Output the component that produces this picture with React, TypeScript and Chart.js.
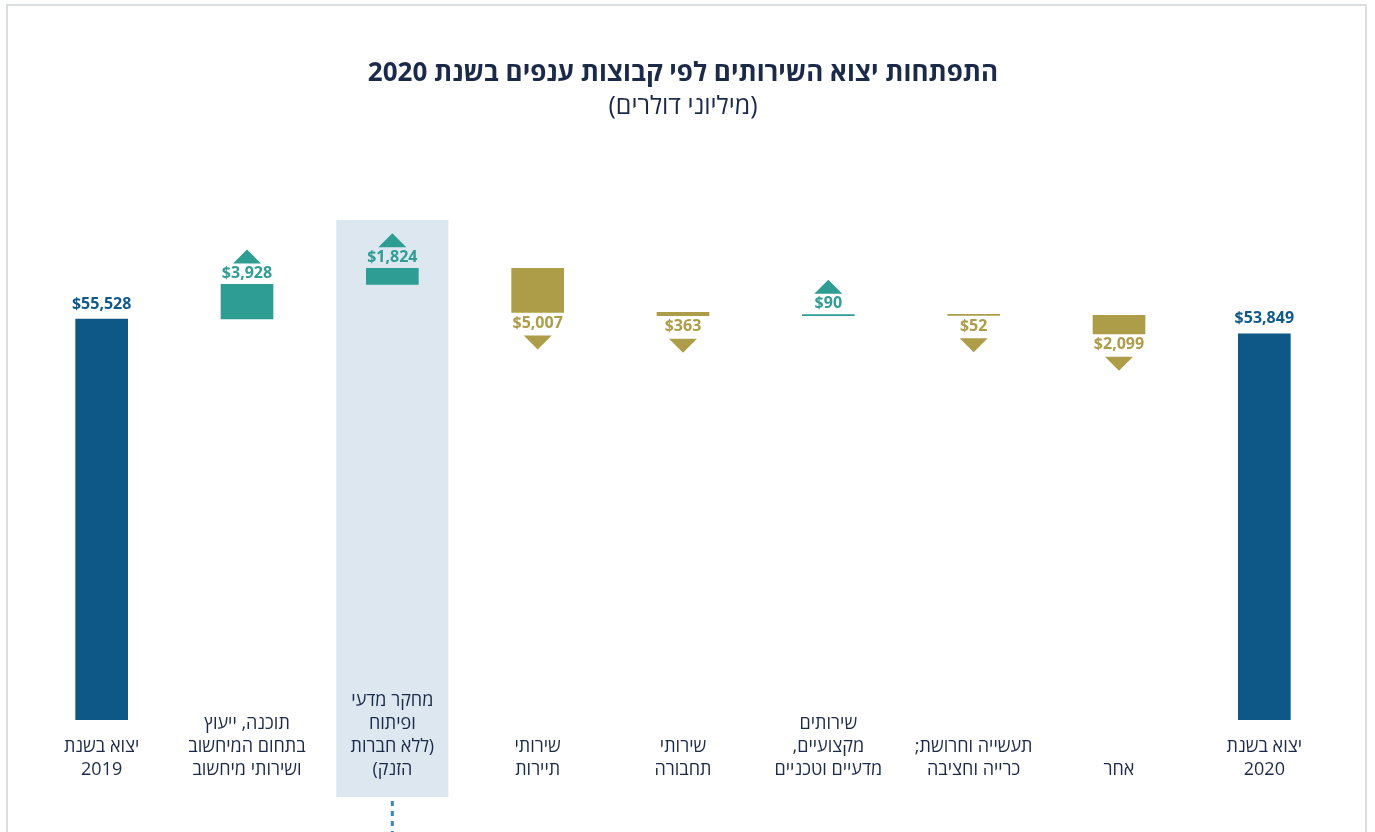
import React, { useEffect, useRef } from 'react';
import { Chart, registerables } from 'chart.js';

Chart.register(...registerables);

// ---- data ----
const categories: string[][] = [
  ['יצוא בשנת', '2019'],
  ['תוכנה, ייעוץ', 'בתחום המיחשוב', 'ושירותי מיחשוב'],
  ['מחקר מדעי', 'ופיתוח', '(ללא חברות', 'הזנק)'],
  ['שירותי', 'תיירות'],
  ['שירותי', 'תחבורה'],
  ['שירותים', 'מקצועיים,', 'מדעיים וטכניים'],
  ['תעשייה וחרושת;', 'כרייה וחציבה'],
  ['אחר'],
  ['יצוא בשנת', '2020'],
];
const startTotal = 55528;
const deltas = [3928, 1824, -5007, -363, 90, -52, -2099];
const endTotal = 53849;
const titleText = 'התפתחות יצוא השירותים לפי קבוצות ענפים בשנת 2020';
const subtitleText = '(מיליוני דולרים)';
const highlightIndex = 2;
const yMin = 10000;
const yMax = 66770;

const FONT = '"Open Sans", "DejaVu Sans", sans-serif';
const TEXT_DARK = '#1c2a4a';
const COLORS: Record<string, string> = { total: '#0d5886', up: '#2e9d93', down: '#ad9c48' };
const LABEL_COLORS: Record<string, string> = { total: '#0f5a8a', up: '#2e9d93', down: '#ad9c48' };

// build floating ranges from the values
const ranges: [number, number][] = [];
const kinds: string[] = [];
const amounts: number[] = [];
ranges.push([0, startTotal]);
kinds.push('total');
amounts.push(startTotal);
let level = startTotal;
for (const d of deltas) {
  ranges.push([level, level + d]);
  kinds.push(d >= 0 ? 'up' : 'down');
  amounts.push(Math.abs(d));
  level += d;
}
ranges.push([0, endTotal]);
kinds.push('total');
amounts.push(endTotal);

const decorPlugin = {
  id: 'decor',
  beforeDraw(chart: any) {
    const { ctx, chartArea, scales } = chart;
    const xs = scales.x;
    ctx.save();
    // frame
    ctx.strokeStyle = '#cfd4d8';
    ctx.lineWidth = 1.5;
    ctx.strokeRect(7, 5, 1359, 900);
    // highlight column
    const cx = xs.getPixelForValue(highlightIndex);
    ctx.fillStyle = '#dce7ef';
    ctx.fillRect(cx - 56, chartArea.top, 112, chartArea.bottom + 77 - chartArea.top);
    // dotted connector
    ctx.strokeStyle = '#3a85d2';
    ctx.lineWidth = 3;
    ctx.setLineDash([5, 5]);
    ctx.beginPath();
    ctx.moveTo(cx, chartArea.bottom + 81);
    ctx.lineTo(cx, chart.height);
    ctx.stroke();
    ctx.restore();
  },
  afterDatasetsDraw(chart: any) {
    const { ctx } = chart;
    const meta = chart.getDatasetMeta(0);
    ctx.save();
    ctx.font = `bold 16px ${FONT}`;
    ctx.textAlign = 'center';
    ctx.textBaseline = 'middle';
    meta.data.forEach((bar: any, i: number) => {
      const kind = kinds[i];
      const { x, y, base } = bar.getProps(['x', 'y', 'base'], true);
      const top = Math.min(y, base);
      const bottom = Math.max(y, base);
      const text = '$' + amounts[i].toLocaleString('en-US');
      ctx.fillStyle = LABEL_COLORS[kind];
      if (kind === 'total') {
        ctx.fillText(text, x, top - 15);
      } else if (kind === 'up') {
        ctx.fillText(text, x, top - 11);
        ctx.beginPath();
        ctx.moveTo(x - 14, top - 21);
        ctx.lineTo(x + 14, top - 21);
        ctx.lineTo(x, top - 35);
        ctx.closePath();
        ctx.fill();
      } else {
        ctx.fillText(text, x, bottom + 11);
        ctx.beginPath();
        ctx.moveTo(x - 14, bottom + 23);
        ctx.lineTo(x + 14, bottom + 23);
        ctx.lineTo(x, bottom + 37);
        ctx.closePath();
        ctx.fill();
      }
    });
    ctx.restore();
  },
};

export default function App() {
  const canvasRef = useRef<HTMLCanvasElement | null>(null);

  useEffect(() => {
    if (!canvasRef.current) return;
    Chart.defaults.font.family = FONT;
    const chart = new Chart(canvasRef.current, {
      type: 'bar',
      data: {
        labels: categories as any,
        datasets: [
          {
            data: ranges as any,
            backgroundColor: kinds.map((k) => COLORS[k]),
            borderWidth: 0,
            barThickness: 52,
            minBarLength: 1,
          },
        ],
      },
      options: {
        animation: false,
        responsive: true,
        maintainAspectRatio: false,
        layout: { padding: { left: 29, right: 38, top: 0, bottom: 0 } },
        plugins: {
          legend: { display: false },
          tooltip: { enabled: false },
          title: {
            display: true,
            text: titleText,
            color: TEXT_DARK,
            font: { family: FONT, size: 26, weight: 'bold', lineHeight: 1.2 },
            padding: { top: 58.4, bottom: 2.4 },
          },
          subtitle: {
            display: true,
            text: subtitleText,
            color: TEXT_DARK,
            font: { family: FONT, size: 25, weight: 'normal', lineHeight: 1.2 },
            padding: { top: 0, bottom: 98 },
          },
        },
        scales: {
          x: {
            grid: { display: false },
            border: { display: false },
            ticks: {
              color: TEXT_DARK,
              font: { family: FONT, size: 18, lineHeight: '23px' },
              padding: -27,
              crossAlign: 'far',
              autoSkip: false,
              maxRotation: 0,
              minRotation: 0,
            },
            afterFit: (s: any) => {
              s.height = 112;
              // let multi-line labels rise above the axis box without being clipped
              s._computeLabelArea = () => undefined;
            },
          },
          y: { display: false, min: yMin, max: yMax },
        },
      } as any,
      plugins: [decorPlugin],
    });
    return () => chart.destroy();
  }, []);

  return (
    <div style={{ position: 'fixed', left: 0, top: 0, width: 1375, height: 832, background: '#fff' }}>
      <canvas ref={canvasRef} dir="rtl" />
    </div>
  );
}
